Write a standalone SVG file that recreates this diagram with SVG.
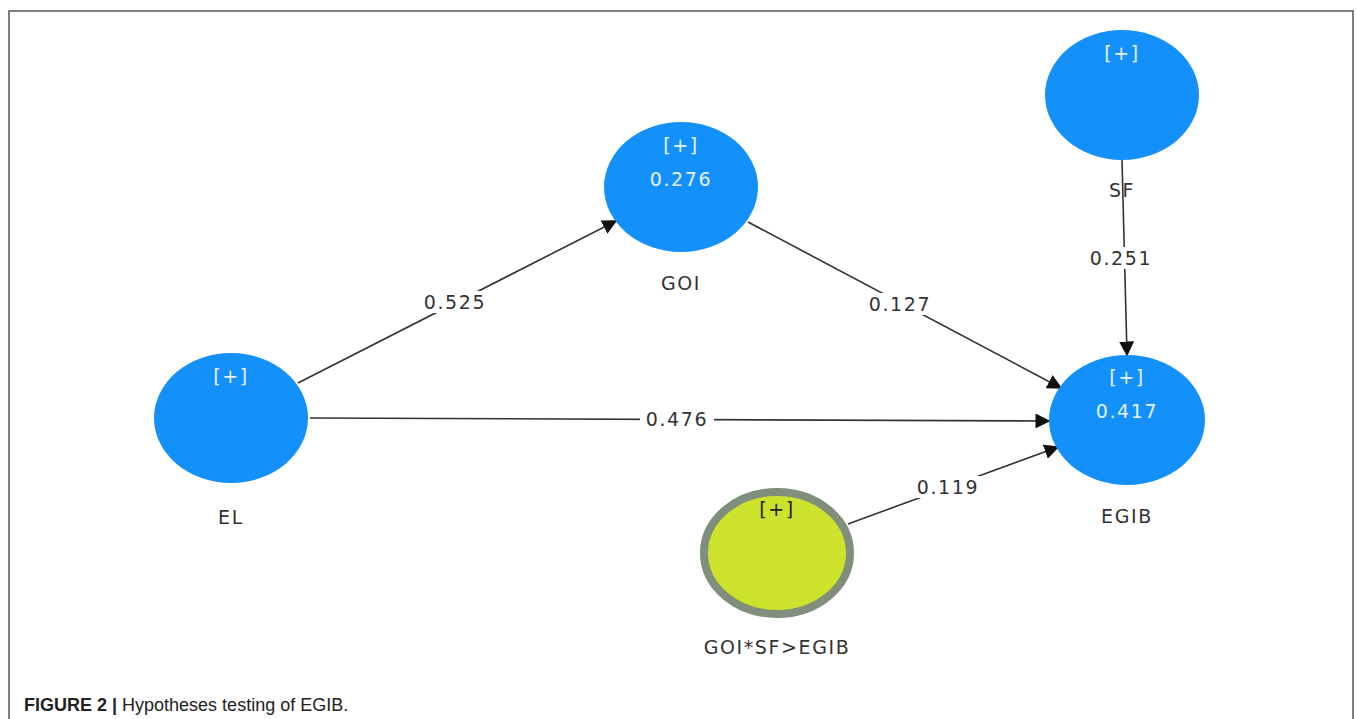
<svg xmlns="http://www.w3.org/2000/svg" width="1357" height="719" viewBox="0 0 1357 719">
<style>
.lv{fill:#1490fb}
.t{font-family:"DejaVu Sans",Verdana,sans-serif;font-size:19px;text-anchor:middle;letter-spacing:1.6px}
.w{fill:#e6f0ff}
.d{fill:#333}
.ln{stroke:#333;stroke-width:1.6;fill:none}
.bg{fill:#fff}
</style>
<defs>
<marker id="ah2" viewBox="0 0 10 10" refX="9" refY="5" markerWidth="15" markerHeight="15" markerUnits="userSpaceOnUse" orient="auto">
<path d="M0,0 L10,5 L0,10 z" fill="#111"/>
</marker>
</defs>
<rect width="1357" height="719" fill="#fff"/>
<path d="M9,719 V11 H1353 V719" fill="none" stroke="#555" stroke-width="1.5"/>
<g id="connectors">
<line class="ln" x1="298" y1="383" x2="616" y2="221" marker-end="url(#ah2)"/>
<line class="ln" x1="748" y1="222" x2="1061" y2="388" marker-end="url(#ah2)"/>
<line class="ln" x1="310" y1="418" x2="1049" y2="421" marker-end="url(#ah2)"/>
<line class="ln" x1="1122" y1="160" x2="1127" y2="355" marker-end="url(#ah2)"/>
<line class="ln" x1="848" y1="524" x2="1058" y2="447" marker-end="url(#ah2)"/>
<rect class="bg" x="418" y="291" width="74" height="22"/>
<text class="t d" x="455" y="309">0.525</text>
<rect class="bg" x="863" y="293" width="74" height="22"/>
<text class="t d" x="900" y="311">0.127</text>
<rect class="bg" x="640" y="408" width="74" height="22"/>
<text class="t d" x="677" y="426">0.476</text>
<rect class="bg" x="1084" y="247" width="74" height="22"/>
<text class="t d" x="1121" y="265">0.251</text>
<rect class="bg" x="911" y="476" width="74" height="22"/>
<text class="t d" x="948" y="494">0.119</text>
</g>
<g id="GOI">
<ellipse class="lv" cx="681" cy="187" rx="77" ry="65"/>
<text class="t w" x="681" y="152">[+]</text>
<text class="t w" x="681" y="186">0.276</text>
<text class="t d" x="681" y="290">GOI</text>
</g>
<g id="SF">
<ellipse class="lv" cx="1122" cy="95" rx="77" ry="65"/>
<text class="t w" x="1122" y="60">[+]</text>
<text class="t d" x="1122" y="197">SF</text>
</g>
<g id="EGIB">
<ellipse class="lv" cx="1127" cy="420" rx="78" ry="65"/>
<text class="t w" x="1127" y="384">[+]</text>
<text class="t w" x="1127" y="418">0.417</text>
<text class="t d" x="1127" y="523">EGIB</text>
</g>
<g id="EL">
<ellipse class="lv" cx="231" cy="418" rx="77" ry="65"/>
<text class="t w" x="231" y="383">[+]</text>
<text class="t d" x="231" y="524">EL</text>
</g>
<g id="GOI_SF_EGIB">
<ellipse cx="777" cy="553" rx="73" ry="61" fill="#cde22c" stroke="#7f8f7c" stroke-width="8"/>
<text class="t" fill="#222" x="777" y="516">[+]</text>
<text class="t d" x="777" y="654">GOI*SF&gt;EGIB</text>
</g>
<text x="24" y="711" font-family="Liberation Sans,Arial,sans-serif" font-size="18" fill="#222"><tspan font-weight="bold">FIGURE 2 |</tspan> Hypotheses testing of EGIB.</text>
</svg>
